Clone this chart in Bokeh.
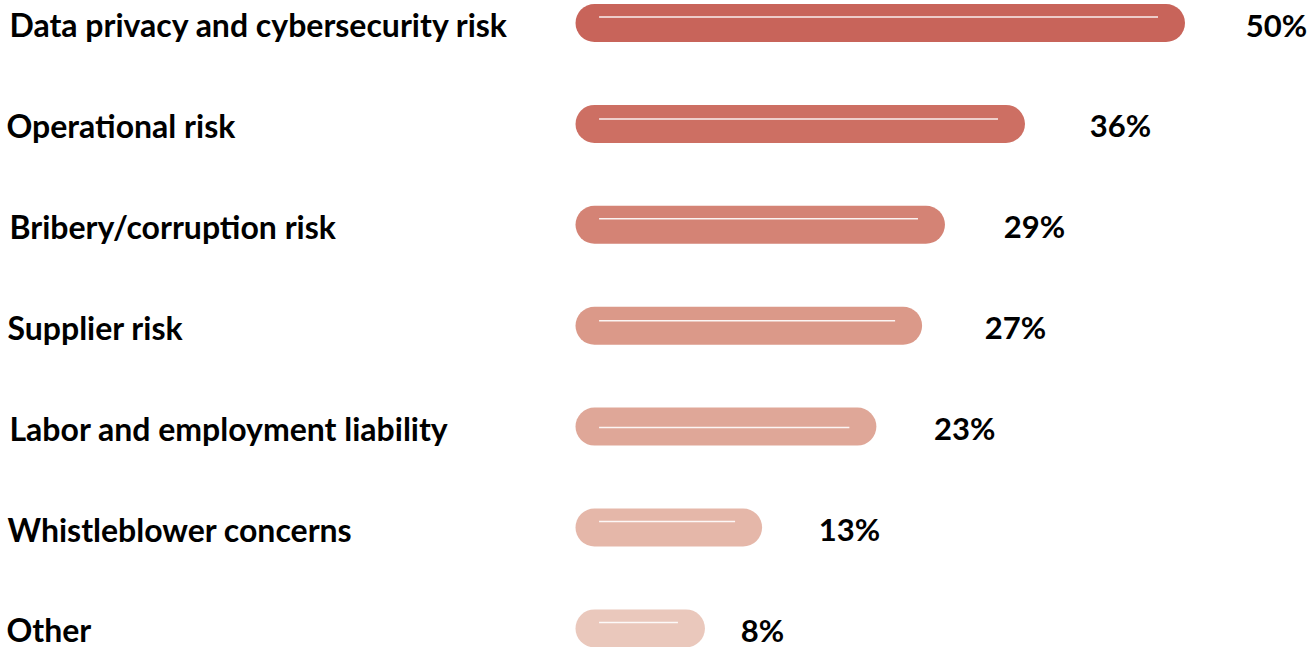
from bokeh.plotting import figure
from bokeh.models import Range1d, ColumnDataSource
from bokeh.embed import file_html
from bokeh.resources import INLINE
from bokeh.core.properties import value

# ---- data ----
categories = [
    "Data privacy and cybersecurity risk",
    "Operational risk",
    "Bribery/corruption risk",
    "Supplier risk",
    "Labor and employment liability",
    "Whistleblower concerns",
    "Other",
]
values = [50, 36, 29, 27, 23, 13, 8]
value_labels = ["50%", "36%", "29%", "27%", "23%", "13%", "8%"]

# ---- style ----
colors = ["#C8645A", "#CD6F63", "#D48375", "#DB9989", "#DFA798", "#E5B7A9", "#EAC8BC"]
highlight_dy_px = [-6, -5, -6, -5, 1, -6, -6]
label_dx_px = [9, 6, 9, 7, 9, 7, 6]
value_dx_px = [2, 6, 0, 4, -1, -2, -23]

W, H = 1314, 647
PX_PER_UNIT = 11.43          # pixels per percentage point
ZERO_PX = 594                # pixel position of 0%
ROW_PX = 100.9               # pixels per row
TOP_PX = 22.5                # pixel centre of first row

xs = -ZERO_PX / PX_PER_UNIT
xe = xs + W / PX_PER_UNIT
y_top = -TOP_PX / ROW_PX
y_bot = y_top + H / ROW_PX

n = len(categories)
ys = list(range(n))
src = ColumnDataSource(dict(
    y=ys,
    v=values,
    cat=categories,
    lab=value_labels,
    color=colors,
    hy=[y + d / ROW_PX for y, d in zip(ys, highlight_dy_px)],
    hx0=[0.4] * n,
    hx1=[v - 0.7 for v in values],
    lx=[xs] * n,
    lxo=label_dx_px,
    vx=[v + 6.8 for v in values],
    vxo=value_dx_px,
))

p = figure(width=W, height=H, x_range=Range1d(xs, xe), y_range=Range1d(y_bot, y_top),
           output_backend="svg", toolbar_location=None, min_border=0,
           x_axis_location=None, y_axis_location=None)
p.grid.visible = False
p.outline_line_color = None
p.background_fill_color = "white"
p.border_fill_color = "white"

p.segment(x0=0, y0="y", x1="v", y1="y", source=src, line_width=38,
          line_cap="round", line_color="color")
p.segment(x0="hx0", y0="hy", x1="hx1", y1="hy", source=src, line_width=1.5,
          line_color="white", line_alpha=0.9)

p.text(x="lx", y="y", text="cat", source=src, x_offset="lxo", y_offset=1.5,
       text_baseline="middle", text_align="left", text_font=value("Lato"),
       text_font_style="bold", text_font_size="32px", text_color="black")
p.text(x="vx", y="y", text="lab", source=src, x_offset="vxo", y_offset=1.5,
       text_baseline="middle", text_align="left", text_font=value("Lato"),
       text_font_style="bold", text_font_size="31px", text_color="black")

open("out.html", "w").write(file_html(p, INLINE))
